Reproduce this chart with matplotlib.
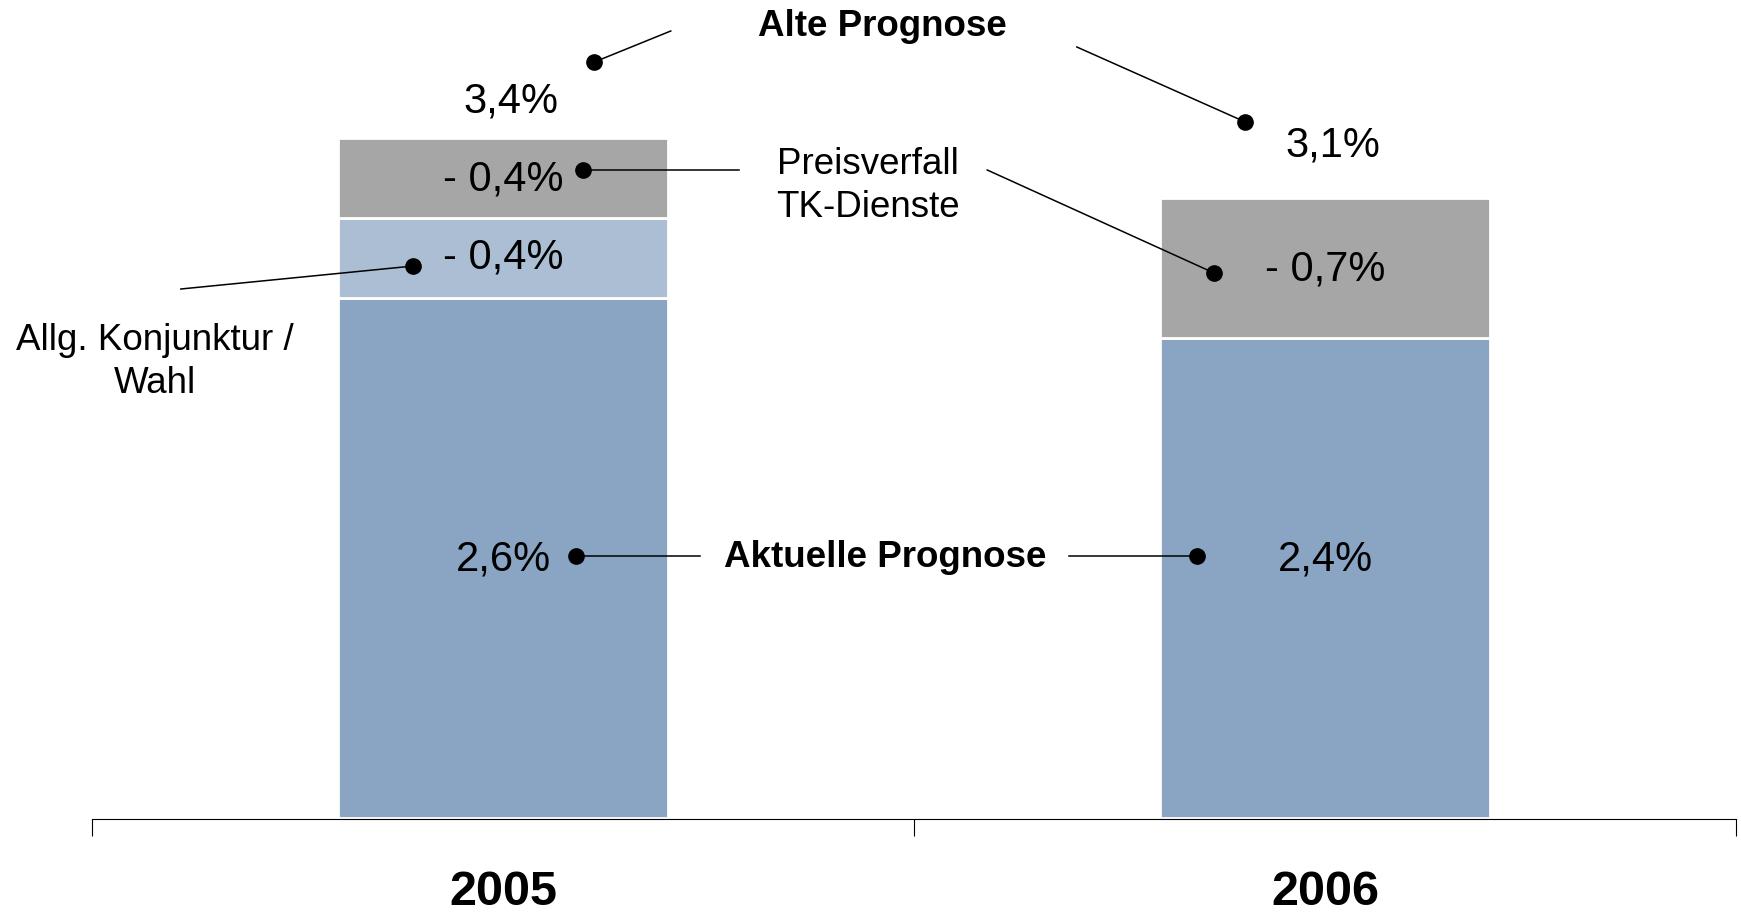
import matplotlib.pyplot as plt
import numpy as np

plt.rcParams['font.family'] = ['Liberation Sans', 'DejaVu Sans']

# data
years = ['2005', '2006']
aktuell = [2.6, 2.4]
konjunktur = [0.4, 0.0]
preisverfall = [0.4, 0.7]
alt = [3.4, 3.1]

c_dark = '#8AA5C4'
c_light = '#ABBED3'
c_gray = '#A6A6A6'


def fmt(v, neg=False):
    s = f"{v:.1f}".replace('.', ',') + '%'
    return '- ' + s if neg else s


fig = plt.figure(figsize=(17.41, 9.13), dpi=100)
ax = fig.add_axes([0, 0, 1, 1])
x = np.arange(len(years))
w = 0.402

aktuell = np.array(aktuell)
konjunktur = np.array(konjunktur)
preisverfall = np.array(preisverfall)

ax.bar(x, aktuell, w, color=c_dark, edgecolor='white', linewidth=2)
ax.bar(x, konjunktur, w, bottom=aktuell, color=c_light, edgecolor='white', linewidth=2)
ax.bar(x, preisverfall, w, bottom=aktuell + konjunktur, color=c_gray, edgecolor='white', linewidth=2)

ax.set_xlim(-0.612, 1.506)
ax.set_ylim(-0.475, 4.09)

# axis line with ticks between categories
for s in ['top', 'right', 'left']:
    ax.spines[s].set_visible(False)
ax.spines['bottom'].set_position(('data', -0.005))
ax.spines['bottom'].set_bounds(-0.5, 1.5)
ax.spines['bottom'].set_linewidth(0.8)
ax.set_yticks([])
ax.set_xticks([-0.5, 0.5, 1.5])
ax.set_xticklabels([])
ax.tick_params(axis='x', which='major', direction='out', length=12, width=0.8)
ax.set_xticks(x, minor=True)
ax.set_xticklabels(years, minor=True, fontsize=35, fontweight='bold')
ax.tick_params(axis='x', which='minor', length=0, pad=37)
ax.patch.set_visible(False)

vfs = 30
lfs = 26.5
label_y = 1.29
total_off = [0.18, 0.26]
for i in range(len(years)):
    ax.text(x[i], label_y, fmt(aktuell[i]), ha='center', va='center', fontsize=vfs)
    if konjunktur[i] > 0:
        ax.text(x[i], aktuell[i] + konjunktur[i] / 2, fmt(konjunktur[i], True),
                ha='center', va='center', fontsize=vfs)
    ax.text(x[i], aktuell[i] + konjunktur[i] + preisverfall[i] / 2 - 0.01,
            fmt(preisverfall[i], True), ha='center', va='center', fontsize=vfs)
    ax.text(x[i] + 0.01, alt[i] + total_off[i], fmt(alt[i]), ha='center', va='center', fontsize=vfs)

ax.text(0.462, 3.96, 'Alte Prognose', ha='center', va='center', fontsize=lfs, fontweight='bold')
ax.text(0.465, 1.305, 'Aktuelle Prognose', ha='center', va='center', fontsize=lfs, fontweight='bold')
ax.text(0.444, 3.16, 'Preisverfall\nTK-Dienste', ha='center', va='center', fontsize=lfs, linespacing=1.28)
ax.text(-0.423, 2.28, 'Allg. Konjunktur /\nWahl', ha='center', va='center', fontsize=lfs, linespacing=1.28)

# connector lines: (x_text_end, y_text_end, x_dot, y_dot)
connectors = [
    (0.204, 3.935, 0.111, 3.78),
    (0.698, 3.855, 0.903, 3.48),
    (0.287, 3.24, 0.097, 3.24),
    (0.589, 3.24, 0.865, 2.725),
    (-0.392, 2.645, -0.109, 2.76),
    (0.24, 1.31, 0.089, 1.31),
    (0.689, 1.31, 0.844, 1.31),
]
for x0, y0, x1, y1 in connectors:
    ax.plot([x0, x1], [y0, y1], color='black', linewidth=1.1)
    ax.plot(x1, y1, 'o', color='black', markersize=11)

fig.savefig('out.png', dpi=100)
